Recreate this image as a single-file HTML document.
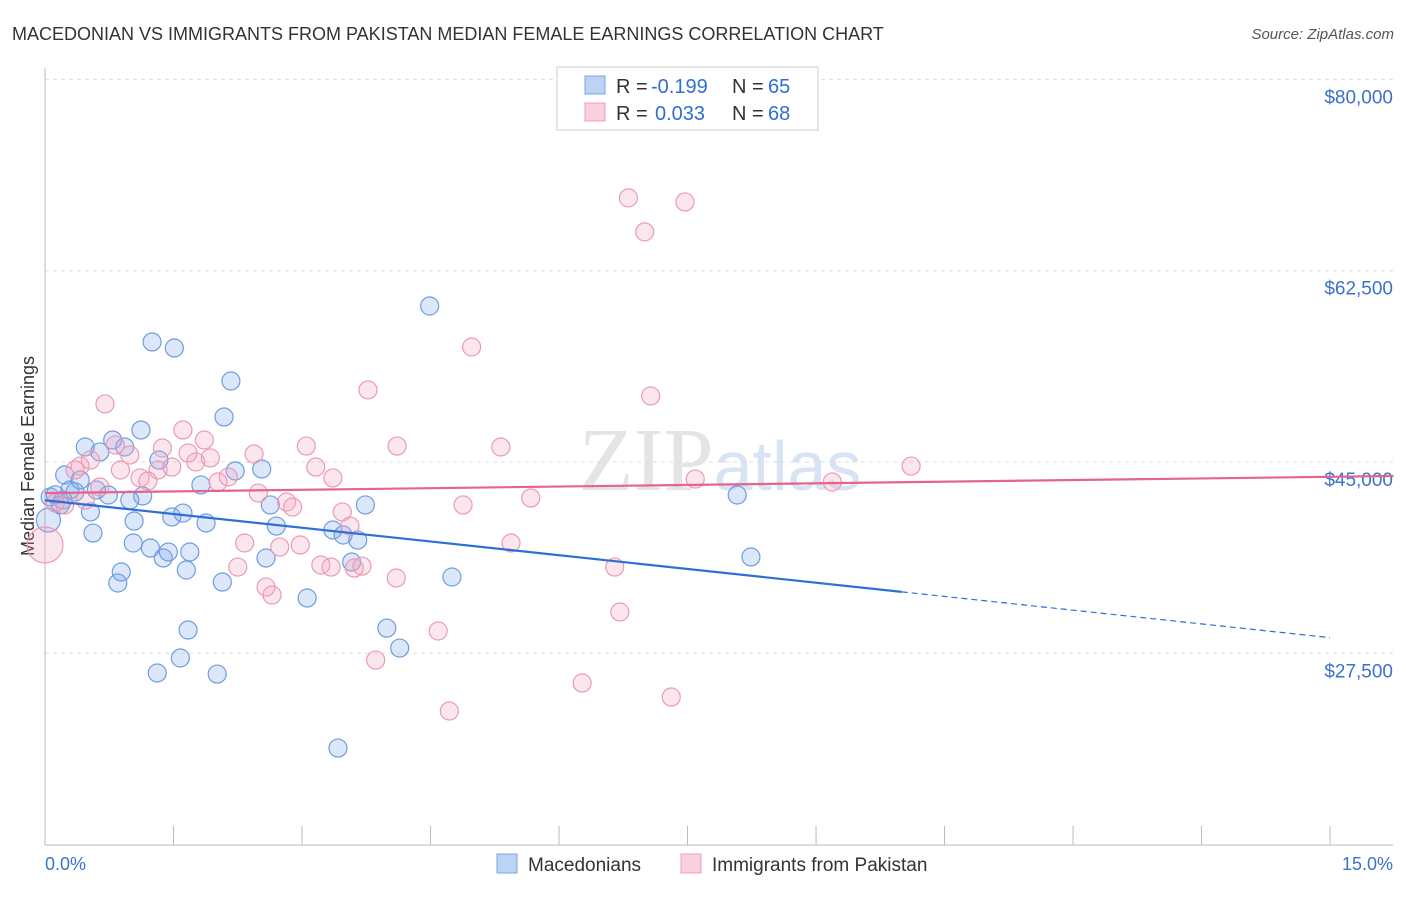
<!DOCTYPE html>
<html><head><meta charset="utf-8"><style>
body{margin:0;background:#fff;font-family:"Liberation Sans",sans-serif;}
</style></head><body>
<svg width="1406" height="892" xmlns="http://www.w3.org/2000/svg" id="chart">
<text x="12" y="40" font-size="18" fill="#333">MACEDONIAN VS IMMIGRANTS FROM PAKISTAN MEDIAN FEMALE EARNINGS CORRELATION CHART</text>
<text x="1394" y="39" font-size="15" fill="#555" font-style="italic" text-anchor="end">Source: ZipAtlas.com</text>
<text x="720" y="490" font-size="90" fill="#e4e4e4" text-anchor="middle" font-family="Liberation Serif,serif">ZIP<tspan fill="#d8e4f4" font-family="Liberation Sans,sans-serif" font-size="70">atlas</tspan></text>
<text x="34" y="456" font-size="18" fill="#333" text-anchor="middle" transform="rotate(-90 34 456)">Median Female Earnings</text>
<g id="grid"></g><g id="axes"></g><g id="marks"></g><g id="lines"></g>
<g>
<rect x="557" y="67" width="261" height="63" fill="#fff" stroke="#ccc"/>
<rect x="585" y="76" width="20" height="18" fill="#bcd4f4" stroke="#7aa6e0"/>
<rect x="585" y="103" width="20" height="18" fill="#fbd0dd" stroke="#eba0b8"/>
<text x="616" y="93" font-size="20" fill="#333">R =</text>
<text x="651" y="93" font-size="20" fill="#2f6fd0">-0.199</text>
<text x="732" y="93" font-size="20" fill="#333">N =</text>
<text x="768" y="93" font-size="20" fill="#2f6fd0">65</text>
<text x="616" y="120" font-size="20" fill="#333">R =</text>
<text x="655" y="120" font-size="20" fill="#2f6fd0">0.033</text>
<text x="732" y="120" font-size="20" fill="#333">N =</text>
<text x="768" y="120" font-size="20" fill="#2f6fd0">68</text>
</g>
<g>
<rect x="497" y="854" width="20" height="19" fill="#bcd4f4" stroke="#7aa6e0"/>
<text x="528" y="871" font-size="19" fill="#333">Macedonians</text>
<rect x="681" y="854" width="20" height="19" fill="#fbd0dd" stroke="#eba0b8"/>
<text x="712" y="871" font-size="19" fill="#333">Immigrants from Pakistan</text>
</g>
</svg>
<script>
const xTicks=[0,1.5,3,4.5,6,7.5,9,10.5,12,13.5,15];
const yTicks=[27500,45000,62500,80000];
const yTickLabels=["$27,500","$45,000","$62,500","$80,000"];
const macX=[0.06,0.12,0.21,0.29,0.23,0.41,0.47,0.64,0.79,0.93,1.12,1.25,1.51,2.17,2.09,1.33,1.14,0.99,0.74,0.60,0.53,0.56,1.04,1.03,1.23,1.38,1.44,1.48,1.61,1.65,1.69,1.88,1.82,2.22,2.53,2.63,2.70,2.58,2.07,1.67,1.58,1.31,2.01,3.06,0.85,0.89,3.36,3.48,3.65,3.58,3.74,3.99,4.14,3.42,4.49,4.75,8.08,8.24,0.04,0.18,0.35];
const macY=[41800,42000,41520,42440,43810,43350,46370,45920,47010,46370,47930,55980,55430,52410,49120,45180,41890,41520,41980,42440,40430,38500,39600,37590,37130,36220,36770,39970,40330,35120,36770,39420,42900,44180,44360,41070,39140,36220,34020,29630,27070,25700,25600,32560,33930,34940,38780,38320,37860,35850,41070,29810,27980,18830,59270,34480,41980,36310,39690,41070,42260];
const pakX=[0.0,0.12,0.23,0.41,0.53,0.70,0.82,0.88,0.99,1.11,1.20,1.32,1.37,1.48,1.61,1.67,1.76,1.86,1.93,2.02,2.14,2.44,2.49,2.33,2.25,2.58,2.65,2.74,2.82,2.89,2.98,3.05,3.16,3.36,3.22,3.34,3.47,3.56,3.61,3.70,3.77,3.86,4.10,4.11,4.59,4.72,4.98,4.88,5.32,5.44,5.67,6.27,6.65,6.71,6.81,7.00,7.07,7.47,7.31,7.59,9.19,10.11,0.35,0.64,0.47];
const pakY=[37410,41250,41070,44630,45180,50310,46560,44270,45640,43540,43260,44270,46280,44540,47930,45820,45000,47010,45370,43170,43630,45730,42160,37590,35390,33560,32830,37220,41340,40880,37410,46460,44540,43540,35580,35390,40430,39140,35300,35480,51590,26880,34390,46460,29540,22220,55520,41070,46370,37590,41710,24780,35390,31280,69160,66050,51040,68790,23500,43440,43170,44630,44270,42710,41520];
const macLine=[41500,-838];
const pakLine=[42160,99];
const NS="http://www.w3.org/2000/svg";
const X=v=>45+v*85.67, Y=v=>462-(v-45000)*191.3/17500;
function mk(t,a,p){const e=document.createElementNS(NS,t);for(const k in a)e.setAttribute(k,a[k]);document.getElementById(p).appendChild(e);return e;}
let e=mk('line',{x1:45,y1:845,x2:1393,y2:845,stroke:'#bbb'},'axes');


e=mk('line',{x1:45,y1:68,x2:45,y2:845,stroke:'#bbb'},'axes');


xTicks.forEach(t=>{e=mk('line',{x1:X(t),y1:845,x2:X(t),y2:826,stroke:'#bbb'},'axes');

});
e=mk('text',{x:45,y:870,'font-size':18,fill:'#3b73c8'},'axes');e.textContent='0.0%';


e=mk('text',{x:1393,y:870,'font-size':18,fill:'#3b73c8','text-anchor':'end'},'axes');e.textContent='15.0%';


yTicks.forEach((t,i)=>{e=mk('line',{x1:45,y1:Y(t),x2:1393,y2:Y(t),stroke:'#ddd','stroke-dasharray':'4,4'},'grid');


e=mk('text',{x:1393,y:Y(t)+24,'font-size':19,fill:'#3b73c8','text-anchor':'end'},'grid');e.textContent=yTickLabels[i];

});
macX.forEach((x,i)=>{e=mk('circle',{cx:X(x),cy:Y(macY[i]),r:(i==58?12:9),fill:'rgba(130,170,235,0.28)',stroke:'#6d9de0','stroke-width':1.2},'marks');

});
pakX.forEach((x,i)=>{e=mk('circle',{cx:X(x),cy:Y(pakY[i]),r:(i==0?18:9),fill:'rgba(245,165,195,0.28)',stroke:'#eb9ab6','stroke-width':1.2},'marks');

});
const f=(l,x)=>l[0]+l[1]*x;
e=mk('line',{x1:X(0),y1:Y(f(macLine,0)),x2:X(10),y2:Y(f(macLine,10)),stroke:'#2c6fd6','stroke-width':2.2},'lines');


e=mk('line',{x1:X(10),y1:Y(f(macLine,10)),x2:X(15),y2:Y(f(macLine,15)),stroke:'#2c6fd6','stroke-width':1.2,'stroke-dasharray':'6,4'},'lines');


e=mk('line',{x1:X(0),y1:Y(f(pakLine,0)),x2:X(15.74),y2:Y(f(pakLine,15.74)),stroke:'#e4648e','stroke-width':2.2},'lines');


</script>
</body></html>
